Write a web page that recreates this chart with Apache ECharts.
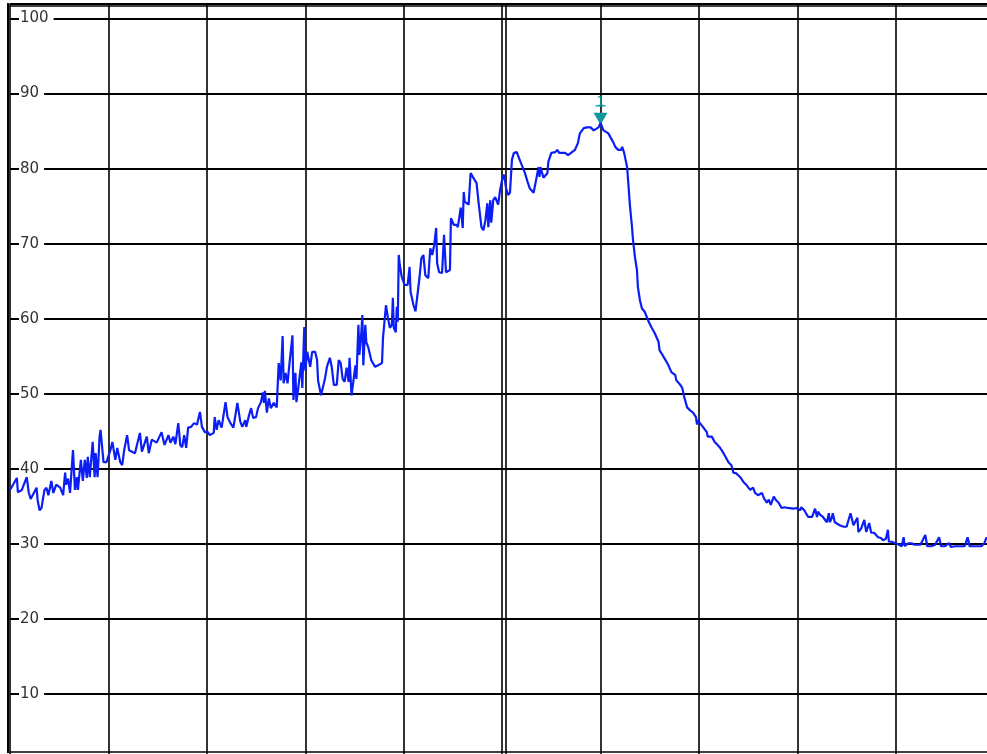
<!DOCTYPE html>
<html>
<head>
<meta charset="utf-8">
<script src="https://cdn.jsdelivr.net/npm/echarts@6/dist/echarts.min.js"></script>
<style>
  html, body { margin: 0; padding: 0; background: #fff; }
  #chart { width: 987px; height: 754px; }
</style>
</head>
<body>
<div id="chart"></div>
<script>
// sweep point index (0..1000)
var sweepIndex = [
  0, 7, 8, 12, 17, 19, 21, 23, 27, 28, 30, 32, 35, 37, 39, 42, 44, 47, 51, 54,
  56, 57, 59, 61, 64, 66, 68, 69, 72, 74, 76, 78, 79, 81, 84, 86, 87, 89, 91, 92,
  95, 98, 102, 104, 107, 109, 112, 114, 116, 119, 121, 124, 127, 129, 132, 134, 137, 139, 141, 144,
  149, 154, 157, 161, 163, 166, 168, 171, 173, 175, 177, 179, 181, 184, 187, 190, 193, 195, 198, 201,
  203, 207, 208, 210, 212, 215, 219, 221, 224, 227, 229, 231, 234, 236, 239, 240, 243, 245, 247, 250,
  252, 255, 257, 258, 259, 261, 263, 265, 268, 271, 273, 275, 277, 278, 280, 282, 284, 287, 288, 290,
  291, 293, 296, 297, 299, 300, 302, 305, 307, 310, 312, 313, 316, 318, 320, 322, 323, 325, 327, 329,
  332, 334, 336, 338, 340, 342, 344, 345, 347, 349, 351, 352, 354, 355, 357, 358, 359, 361, 362, 364,
  367, 371, 374, 378, 379, 382, 384, 386, 388, 389, 390, 392, 393, 394, 395, 396, 398, 401, 404, 406,
  407, 410, 412, 414, 416, 418, 420, 422, 425, 427, 429, 431, 433, 434, 436, 439, 441, 443, 445, 447,
  448, 450, 451, 454, 455, 457, 458, 460, 461, 462, 466, 468, 470, 472, 474, 476, 479, 481, 483, 485,
  486, 488, 489, 490, 491, 493, 494, 496, 498, 500, 502, 504, 506, 508, 510, 512, 515, 516, 519, 522,
  523, 526, 528, 532, 534, 535, 537, 538, 539, 542, 544, 546, 547, 550, 552, 554, 556, 558, 561, 564,
  567, 571, 574, 577, 579, 583, 586, 590, 593, 595, 598, 600, 603, 605, 608, 610, 613, 615, 618, 621,
  622, 624, 627, 628, 630, 632, 633, 635, 637, 638, 640, 642, 645, 649, 652, 655, 659, 660, 662, 666,
  669, 672, 676, 677, 681, 683, 685, 688, 691, 694, 697, 698, 699, 701, 704, 708, 709, 713, 716, 719,
  721, 725, 727, 730, 733, 735, 738, 742, 745, 748, 752, 755, 757, 760, 764, 766, 769, 771, 773, 776,
  778, 781, 784, 787, 790, 792, 796, 799, 803, 804, 807, 811, 815, 818, 820, 821, 823, 825, 826, 830,
  832, 833, 835, 836, 838, 843, 847, 850, 852, 854, 857, 859, 861, 862, 865, 868, 870, 873, 875, 878,
  882, 885, 887, 890, 892, 893, 896, 899, 902, 906, 908, 909, 913, 916, 919, 925, 930, 932, 936, 940,
  944, 946, 950, 954, 956, 960, 970, 973, 975, 984, 987, 990, 992, 1000
];

// level in dB for each sweep point
var levelDb = [
  37.2, 38.8, 36.9, 37.2, 38.9, 36.9, 36.0, 36.1, 37.5, 35.9, 34.5, 34.8, 37.2, 37.5, 36.5, 38.4, 36.8, 37.9, 37.5, 36.5,
  39.5, 37.9, 38.7, 36.8, 42.5, 37.2, 38.9, 37.2, 41.2, 38.4, 41.2, 38.8, 41.6, 38.9, 43.6, 38.9, 42.1, 38.9, 44.3, 45.2,
  40.9, 40.9, 42.5, 43.6, 41.2, 42.8, 40.9, 40.5, 42.5, 44.5, 42.5, 42.3, 42.1, 43.2, 44.8, 42.3, 43.5, 44.3, 42.1, 43.9,
  43.5, 44.9, 43.2, 44.5, 43.5, 44.3, 43.3, 46.1, 43.2, 42.9, 44.5, 42.8, 45.5, 45.6, 46.1, 45.9, 47.6, 45.6, 44.9, 44.9,
  44.5, 44.8, 46.9, 45.2, 46.5, 45.5, 48.9, 46.9, 46.1, 45.5, 45.6, 48.8, 46.3, 45.6, 46.5, 45.6, 47.2, 48.1, 46.8, 46.9,
  48.1, 48.9, 50.2, 48.8, 50.4, 47.5, 49.4, 48.1, 48.8, 48.2, 54.1, 51.8, 57.7, 51.4, 52.8, 51.4, 54.1, 57.8, 49.2, 52.8,
  48.9, 50.9, 54.2, 50.8, 58.9, 53.1, 55.6, 53.6, 55.6, 55.6, 54.5, 51.8, 49.8, 49.8, 52.0, 53.6, 53.5, 54.8, 53.5, 51.2,
  51.2, 54.5, 54.1, 52.0, 51.6, 53.5, 51.6, 54.8, 49.8, 49.8, 53.8, 52.0, 59.2, 55.2, 58.2, 60.5, 53.8, 59.2, 56.9, 56.2,
  54.5, 53.6, 53.8, 54.1, 57.5, 61.8, 60.1, 58.8, 59.2, 62.8, 58.8, 58.2, 61.6, 59.6, 68.5, 67.2, 65.6, 64.5, 64.5, 66.9,
  63.6, 61.8, 61.0, 61.0, 65.4, 68.1, 68.5, 65.8, 65.4, 69.4, 68.5, 69.8, 72.1, 67.4, 66.2, 66.1, 71.2, 66.2, 66.2, 66.5,
  73.4, 73.6, 72.5, 72.5, 72.2, 72.2, 74.8, 72.1, 76.9, 75.6, 75.2, 79.4, 79.4, 78.5, 78.1, 75.6, 72.2, 71.8, 73.1, 75.4,
  72.2, 75.8, 72.8, 72.8, 75.8, 76.2, 76.1, 75.2, 77.2, 78.5, 79.2, 77.4, 76.5, 76.8, 81.2, 82.1, 82.2, 81.8, 80.8, 79.8,
  79.5, 78.2, 77.4, 76.8, 76.9, 78.8, 80.2, 78.9, 80.2, 78.8, 78.9, 79.4, 80.9, 82.1, 82.2, 82.2, 82.5, 82.1, 82.1, 82.1,
  81.8, 82.2, 82.5, 83.4, 84.7, 85.4, 85.5, 85.5, 85.1, 85.0, 85.5, 86.1, 85.1, 84.9, 84.7, 84.2, 83.5, 82.9, 82.5, 82.5,
  82.9, 82.1, 80.2, 78.5, 74.9, 72.2, 70.5, 68.2, 66.5, 64.2, 62.5, 61.4, 60.9, 59.6, 58.8, 58.1, 56.9, 55.8, 55.4, 54.5,
  53.8, 52.9, 52.5, 51.8, 51.2, 50.8, 49.6, 48.2, 47.8, 47.5, 46.9, 45.9, 46.5, 46.1, 45.6, 44.9, 44.3, 44.3, 43.6, 43.2,
  42.9, 42.1, 42.1, 40.9, 40.5, 39.5, 39.4, 38.9, 38.3, 37.9, 37.2, 37.5, 36.8, 36.5, 36.8, 36.1, 35.5, 35.9, 35.2, 36.3,
  35.9, 35.5, 34.8, 34.9, 34.8, 34.9, 34.7, 34.8, 34.5, 34.9, 34.5, 33.6, 33.6, 34.7, 33.6, 34.3, 33.9, 34.1, 33.6, 32.9,
  34.1, 32.9, 33.5, 34.1, 32.9, 32.5, 32.3, 32.3, 32.5, 34.1, 32.5, 32.3, 33.5, 31.6, 32.1, 33.2, 31.6, 32.8, 31.5, 31.5,
  30.9, 30.8, 30.5, 30.7, 31.9, 30.3, 30.3, 30.1, 30.0, 29.7, 30.9, 29.7, 30.1, 30.1, 29.9, 29.9, 31.2, 29.7, 29.7, 29.9,
  30.9, 29.7, 29.7, 30.1, 29.6, 29.7, 29.7, 30.9, 29.7, 29.7, 29.7, 30.1, 30.8, 30.8
];

// marker 1 sits on the peak
var markerIndex = 600;
var markerLevel = 86.1;

var yTicks = [10, 20, 30, 40, 50, 60, 70, 80, 90, 100];

var traceData = [];
for (var i = 0; i < sweepIndex.length; i++) {
  traceData.push([sweepIndex[i], levelDb[i]]);
}

var chart = echarts.init(document.getElementById('chart'), null, { renderer: 'canvas' });

var option = {
  animation: false,
  backgroundColor: '#fff',
  grid: {
    left: 10,
    right: -7.2,
    top: 3.5,
    bottom: -15.2,
    outerBoundsMode: 'none',
    containLabel: false
  },
  xAxis: {
    type: 'value',
    min: 0,
    max: 1000,
    interval: 100,
    axisLine: { show: false },
    axisTick: { show: false },
    axisLabel: { show: false },
    splitLine: { show: true, lineStyle: { color: '#000', width: 1.6, type: 'solid' } }
  },
  yAxis: {
    type: 'value',
    min: 0,
    max: 102,
    interval: 10,
    axisLine: { show: false },
    axisTick: { show: false },
    splitLine: { show: true, lineStyle: { color: '#000', width: 1.8, type: 'solid' } },
    axisLabel: {
      inside: true,
      margin: 9,
      showMinLabel: false,
      showMaxLabel: false,
      color: '#333',
      fontFamily: 'DejaVu Sans',
      fontSize: 15,
      backgroundColor: '#fff',
      padding: [1, 5, 0, 1],
      formatter: function (v) {
        return yTicks.indexOf(v) > -1 ? String(v) : '';
      }
    }
  },
  graphic: [
    {
      type: 'line',
      silent: true,
      shape: { x1: 8, y1: 3, x2: 8, y2: 753 },
      style: { stroke: '#000', lineWidth: 2 }
    }
  ],
  series: [
    {
      type: 'line',
      data: traceData,
      showSymbol: false,
      symbol: 'none',
      clip: false,
      z: 5,
      lineStyle: { color: '#0a1ef5', width: 2.2 },
      itemStyle: { color: '#0a1ef5' },
      markLine: {
        silent: true,
        symbol: 'none',
        animation: false,
        label: { show: false },
        lineStyle: { color: '#000', width: 1.6, type: 'solid' },
        emphasis: { disabled: true },
        data: [
          { yAxis: 101.7 },
          { yAxis: 2.3 },
          { xAxis: 503.6 }
        ]
      },
      markPoint: {
        silent: true,
        animation: false,
        data: [
          {
            coord: [markerIndex, markerLevel],
            symbol: 'triangle',
            symbolRotate: 180,
            symbolSize: [14, 12],
            symbolOffset: [0, -4],
            itemStyle: { color: '#10999a' },
            label: {
              show: true,
              position: 'top',
              distance: 3,
              formatter: '1',
              color: '#10999a',
              fontFamily: 'DejaVu Sans Mono',
              fontSize: 14
            }
          },
          {
            coord: [markerIndex, markerLevel],
            symbol: 'rect',
            symbolSize: [10, 1.3],
            symbolOffset: [0, -17],
            itemStyle: { color: '#10999a' },
            label: { show: false }
          }
        ]
      }
    }
  ]
};

chart.setOption(option);
</script>
</body>
</html>
